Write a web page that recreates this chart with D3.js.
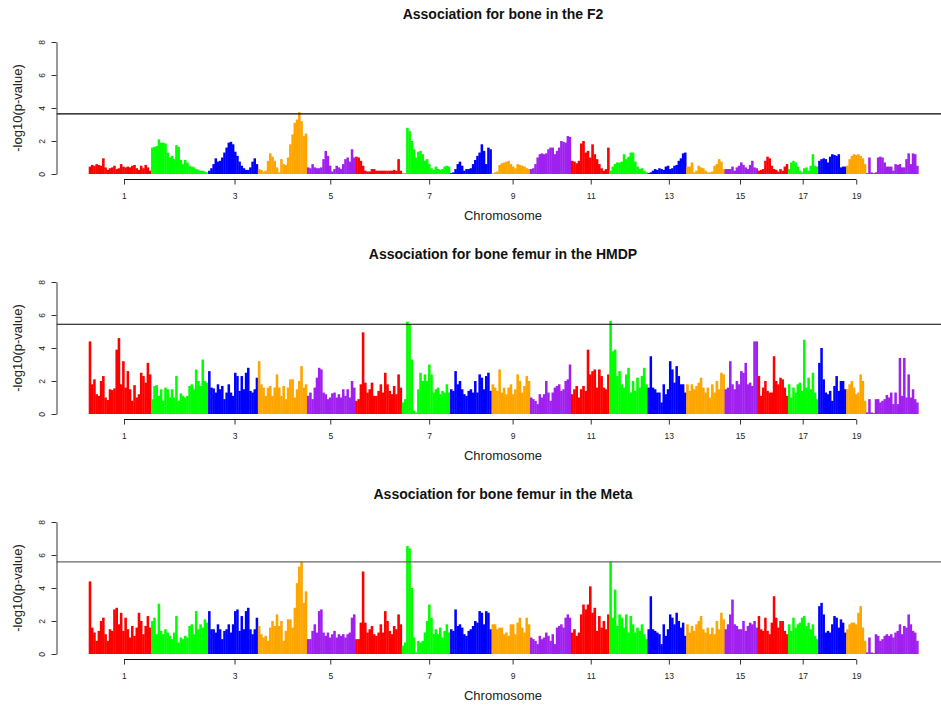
<!DOCTYPE html>
<html>
<head>
<meta charset="utf-8">
<script src="https://cdnjs.cloudflare.com/ajax/libs/d3/7.8.5/d3.min.js"></script>
<style>
  body { margin: 0; background: #fff; }
  text { font-family: "Liberation Sans", Arial, Helvetica, sans-serif; }
</style>
</head>
<body>
<script>
// chromosomes and their lengths (Mb, approx from the picture)
var chromosomes = ["1","2","3","4","5","6","7","8","9","10","11","12","13","14","15","16","17","18","19","X"];
var chrLengths = [198,181,158,156,153,148,153,132,122,130,122,121,123,122,105,96,96,89,63,166];
var chrColors = ["#FF0000", "#00FF00", "#0000FF", "#FFA500", "#A020F0"];

var panelTitles = ["Association for bone in the F2",
                   "Association for bone femur in the HMDP",
                   "Association for bone femur in the Meta"];
var thresholds = [3.64, 5.44, 5.58];
var thresholdColors = ["#000", "#000", "#666"];
var yTicks = [0, 2, 4, 6, 8];
var xTickLabels = ["1","3","5","7","9","11","13","15","17","19"];
var xTickPos = [112, 463, 767, 1081, 1346, 1594, 1842, 2068, 2267, 2437]; // cumulative Mb

// -log10(p) along each chromosome
var f2Logp = [
  [0.45,0.55,0.5,0.6,0.55,0.5,0.95,0.4,0.25,0.35,0.4,0.5,0.3,0.35,0.6,0.45,0.4,0.45,0.4,0.5,0.55,0.35,0.25,0.5,0.35,0.55,0.4,0.2],
  [1.6,1.65,1.7,2.1,1.9,1.9,1.85,1.3,1.0,1.1,0.9,1.75,1.65,0.85,0.6,0.85,0.7,0.5,0.45,0.4,0.3,0.25,0.2,0.2,0.15,0.1],
  [0.2,0.35,0.6,0.95,0.75,0.8,1.0,1.3,1.6,1.9,1.95,1.8,1.35,1.1,0.75,0.5,0.35,0.25,0.25,0.4,0.75,0.95,0.6],
  [0.3,0.25,0.15,0.2,0.8,1.25,1.05,0.8,0.4,0.1,0.9,0.6,0.55,1.0,1.8,2.4,3.1,3.3,3.75,3.2,2.3,2.45],
  [0.4,0.35,0.6,0.4,0.35,0.35,0.4,0.9,1.4,1.1,0.5,0.15,0.3,0.5,0.4,0.3,0.6,0.9,1.0,0.75,1.5,1.0],
  [1.05,1.0,0.8,0.5,0.2,0.15,0.15,0.3,0.3,0.2,0.2,0.2,0.2,0.2,0.2,0.2,0.2,0.25,0.2,0.9,0.2],
  [0.05,0.05,2.8,2.6,2.0,1.5,1.0,1.35,1.4,1.2,0.8,0.9,0.6,0.35,0.25,0.45,0.3,0.25,0.3,0.45,0.5,0.45],
  [0.05,0.1,0.3,0.6,0.75,0.5,0.2,0.3,0.3,0.35,0.6,0.85,1.1,1.3,1.8,1.4,0.6,1.6,1.5],
  [0.05,0.1,0.15,0.55,0.65,0.7,0.75,0.8,0.6,0.45,0.35,0.6,0.55,0.5,0.45,0.35,0.3],
  [0.3,0.35,0.6,1.0,1.2,1.25,1.2,1.25,1.5,1.6,1.6,1.2,1.4,1.6,2.0,1.95,1.9,2.3,2.25],
  [0.8,0.75,0.65,0.8,1.85,2.0,1.3,1.4,1.0,1.8,1.2,0.9,0.6,0.35,0.2,0.3,1.6],
  [0.2,0.45,0.6,0.7,0.7,0.75,1.2,0.9,1.05,1.3,1.3,0.75,0.45,0.3,0.35,0.2,0.1],
  [0.05,0.1,0.2,0.3,0.25,0.35,0.3,0.25,0.45,0.5,0.3,0.35,0.5,0.55,0.8,0.95,1.25,1.3],
  [0.45,0.45,0.7,0.1,0.2,0.5,0.4,0.35,0.2,0.1,0.1,0.15,0.5,0.6,0.9,0.75,0.3],
  [0.3,0.3,0.3,0.45,0.2,0.4,0.5,0.7,0.55,0.4,0.3,0.55,0.8,0.4,0.35],
  [0.2,0.25,0.3,0.8,1.05,0.95,0.5,0.3,0.25,0.15,0.3,0.2,0.45,0.6],
  [0.3,0.7,0.8,0.7,0.45,0.2,0.1,0.35,0.4,0.2,0.5,1.2,0.5,0.45],
  [0.8,0.9,0.95,0.9,0.7,1.05,1.2,1.15,1.1,1.2,0.4,0.45,0.45],
  [0.5,0.9,1.1,1.2,1.15,1.2,1.1,0.95,0.6],
  [0.05,1.0,0.1,0.05,0.1,1.0,1.05,1.0,0.7,0.45,0.45,0.45,0.2,0.6,0.55,0.6,0.4,0.4,0.9,1.25,0.6,1.25,1.2,0.5]
];

var hmdpLogp = [
  [4.4,1.8,2.1,1.2,1.1,2.0,2.3,1.0,0.85,1.5,1.45,1.55,3.9,4.6,1.8,3.2,1.6,2.6,1.5,0.8,1.75,1.0,1.2,2.5,2.3,1.9,3.1,2.4],
  [0.9,1.7,1.75,1.1,1.5,0.8,1.6,1.5,1.0,1.5,1.0,2.3,0.8,1.25,1.1,1.0,1.1,1.7,1.8,1.5,2.7,2.0,1.7,3.3,2.0,1.9],
  [2.6,1.6,1.55,1.3,1.8,1.5,1.7,0.9,1.3,1.8,1.3,1.1,2.5,2.3,1.4,2.3,1.5,2.5,2.8,1.4,1.3,1.5,2.2],
  [3.2,1.8,1.6,1.1,1.6,1.7,1.1,1.6,2.4,1.6,1.1,1.7,0.9,1.6,2.1,2.1,1.0,1.5,2.0,2.9,1.6,1.8],
  [1.1,1.3,0.9,1.6,2.2,2.8,2.7,1.3,1.2,0.9,1.0,1.25,1.3,1.0,1.2,1.0,1.5,1.1,1.5,1.0,2.0,1.6],
  [0.8,0.9,1.8,4.95,1.9,1.3,1.5,1.9,1.1,1.1,1.4,1.8,1.3,2.5,1.8,1.4,1.2,1.7,1.2,2.4,1.6],
  [0.7,0.9,5.6,5.45,3.3,0.2,0.1,1.5,2.5,2.0,2.4,2.0,3.0,2.4,1.3,1.5,1.6,1.2,1.4,1.3,1.8,1.3],
  [1.5,1.4,2.6,1.8,2.0,1.5,1.2,1.1,1.4,1.5,1.3,2.0,1.3,2.4,2.2,1.5,2.3,2.5,1.4],
  [1.8,1.6,1.4,2.7,1.3,1.6,1.2,1.6,1.8,1.2,1.5,2.4,2.0,1.3,1.7,2.3,2.0],
  [1.0,0.9,0.8,0.6,1.2,1.0,1.2,2.0,1.3,0.8,1.3,1.6,1.7,1.8,1.4,1.5,2.0,2.1,3.0],
  [1.2,1.5,1.7,1.0,1.5,1.7,1.4,3.9,2.4,2.6,2.7,1.6,2.7,2.3,1.6,1.5,2.4],
  [5.65,3.8,3.9,2.3,2.6,1.8,1.6,2.4,2.8,1.3,2.0,1.4,2.2,1.6,2.3,2.8,1.8],
  [1.6,3.5,1.6,1.5,1.3,1.3,0.7,1.8,1.2,1.5,3.2,2.7,1.9,2.9,2.3,1.8,1.8,1.3],
  [1.8,1.4,1.8,1.5,1.7,1.9,2.2,1.6,1.3,1.6,1.0,1.8,1.3,2.0,1.5,2.5,2.4],
  [1.5,1.6,3.2,1.8,1.5,2.0,1.8,2.6,2.5,3.1,1.8,1.9,1.7,4.4,4.4],
  [2.3,1.1,1.6,2.0,1.4,1.3,1.3,3.5,2.0,1.8,2.2,2.1,1.6,1.1],
  [1.8,1.0,1.6,1.3,1.8,1.9,1.4,4.5,1.6,2.2,1.5,2.5,1.3,0.9],
  [3.1,4.0,2.1,1.3,1.2,1.4,0.8,1.7,2.3,1.4,2.0,2.0,1.5],
  [1.5,1.8,2.0,1.6,1.2,1.3,2.4,2.0,0.8],
  [0.1,0.9,0.1,0.05,0.9,0.9,0.7,0.8,0.9,1.15,1.0,1.3,0.6,1.3,0.6,3.4,1.1,3.4,1.0,2.4,1.0,1.5,0.9,0.7]
];

var metaLogp = [
  [4.4,1.6,1.3,0.8,1.4,2.0,2.2,1.2,0.8,1.5,1.4,2.7,2.8,1.8,2.5,1.4,2.2,1.5,1.0,1.7,1.1,1.6,2.5,2.0,1.2,1.7,2.3,1.6],
  [2.0,2.2,1.2,3.05,1.4,1.2,1.5,1.3,1.1,0.9,1.3,2.3,0.7,1.0,0.9,1.1,1.0,1.7,1.8,1.2,2.6,1.5,1.8,1.6,2.1,1.9],
  [2.6,1.5,1.5,1.3,1.8,1.5,0.9,1.4,1.5,1.8,1.3,1.8,2.6,2.7,1.4,2.3,1.5,2.6,2.8,1.5,1.2,1.5,2.2],
  [1.7,1.2,1.0,1.1,0.8,1.6,2.0,1.7,2.4,1.7,2.0,0.8,1.4,2.1,2.1,1.6,2.8,4.3,5.3,5.6,3.1,3.8],
  [0.9,0.9,1.4,1.8,1.3,2.6,2.7,1.3,1.1,1.3,1.0,1.2,1.4,1.0,1.2,1.1,1.2,1.0,1.2,1.3,2.2,2.4],
  [0.9,0.9,1.9,5.0,1.9,1.3,1.5,1.7,1.2,1.1,1.3,1.8,1.3,2.6,2.0,1.4,1.2,1.7,1.5,2.4,1.8],
  [0.5,0.7,6.55,6.4,4.0,1.0,0.1,0.8,0.7,0.8,1.3,2.0,3.0,2.2,1.2,1.5,1.2,1.6,1.0,1.4,1.8,1.3],
  [1.5,1.4,2.7,1.7,1.8,1.6,1.2,1.1,1.4,1.5,1.7,2.0,1.9,2.6,2.5,1.8,2.6,2.5,1.5],
  [1.8,1.8,1.5,1.6,1.6,1.2,1.3,1.1,1.8,1.8,1.2,1.9,2.2,1.6,1.3,2.2,1.8],
  [1.0,0.9,0.8,0.6,1.1,0.9,1.0,1.3,1.1,0.8,1.2,0.6,1.6,1.7,1.8,1.6,2.2,2.4,2.2],
  [1.3,1.5,1.1,1.3,2.4,3.0,2.7,3.0,4.1,2.5,2.8,1.4,2.3,1.6,2.0,1.5,2.4],
  [5.6,2.2,3.9,1.7,2.4,2.2,1.6,2.4,1.3,2.3,1.8,1.3,1.6,1.4,1.8,1.2,0.9],
  [1.5,3.5,1.5,1.4,1.3,1.2,0.6,1.8,1.1,1.5,2.4,2.2,1.8,2.5,2.0,1.6,1.9,1.1],
  [1.8,1.3,1.7,1.4,1.8,2.0,2.3,1.5,1.3,1.6,1.2,1.6,1.2,2.0,1.5,2.5,2.1],
  [1.5,1.8,2.4,3.3,1.8,1.7,1.5,1.5,2.0,1.4,1.7,1.9,1.8,2.0,1.6],
  [2.3,1.5,1.4,2.2,1.4,1.2,1.9,3.5,2.2,1.6,2.0,2.0,1.4,1.2],
  [1.8,1.4,2.2,1.6,1.8,1.9,2.2,2.3,1.7,1.9,1.5,1.8,1.1,0.9],
  [2.9,3.1,2.4,1.3,1.4,1.3,1.8,2.3,2.2,1.6,2.1,1.9,1.3],
  [1.5,1.8,1.9,1.9,1.8,2.5,2.9,1.6,0.8],
  [0.1,1.0,0.1,0.05,1.2,1.1,0.8,0.9,1.1,1.2,1.1,1.2,1.0,1.3,1.4,1.8,1.2,1.7,1.6,2.4,1.8,1.4,1.3,0.8]
];

var panels = [f2Logp, hmdpLogp, metaLogp];

var w = 941, h = 705;
var panelStep = 240;
var axisX = 56.5;

var svg = d3.select("body").append("svg")
    .attr("width", w)
    .attr("height", h);

var chrEnds = Array.from(d3.cumsum(chrLengths));
var chrStarts = chrEnds.map((e, i) => e - chrLengths[i]);
var total = chrEnds[chrEnds.length - 1];

var xScale = d3.scaleLinear().domain([0, total]).range([88.7, 918.3]);
var yScale = d3.scaleLinear().domain([0, 8]).range([174, 42]);

svg.append("defs").append("clipPath").attr("id", "plotclip")
  .append("rect").attr("x", axisX).attr("y", 30).attr("width", w - axisX).attr("height", 150);

panels.forEach(function(panel, p) {
  var g = svg.append("g").attr("transform", "translate(0," + (p * panelStep) + ")");

  // flatten into bars
  var bars = [];
  panel.forEach(function(vals, c) {
    var step = chrLengths[c] / vals.length;
    vals.forEach(function(v, i) {
      bars.push({c: c, a: chrStarts[c] + i * step, b: chrStarts[c] + (i + 1) * step, v: v});
    });
  });

  var plot = g.append("g").attr("clip-path", "url(#plotclip)");

  plot.selectAll("rect.bar")
    .data(bars)
    .enter().append("rect")
    .attr("class", "bar")
    .attr("x", d => xScale(d.a))
    .attr("width", d => xScale(d.b) - xScale(d.a) + 0.35)
    .attr("y", d => yScale(d.v))
    .attr("height", d => yScale(0) - yScale(d.v))
    .attr("fill", d => chrColors[d.c % 5]);

  // significance line
  plot.append("line")
    .attr("x1", axisX).attr("x2", w)
    .attr("y1", yScale(thresholds[p])).attr("y2", yScale(thresholds[p]))
    .attr("stroke", thresholdColors[p])
    .attr("stroke-width", 1.2);

  // y axis
  var yAxis = d3.axisLeft(yScale).tickValues(yTicks).tickSize(5).tickSizeOuter(0);
  var ya = g.append("g").attr("transform", "translate(" + axisX + ",0)").call(yAxis);
  ya.selectAll("path, line").attr("stroke", "#333").attr("stroke-width", 1);
  ya.selectAll("text")
    .attr("x", 0).attr("dy", 0)
    .attr("transform", "translate(-12,0) rotate(-90)")
    .attr("text-anchor", "middle")
    .attr("font-size", 8.5)
    .attr("fill", "#222");

  // x axis, ticks at odd chromosomes, line from first to last tick
  var xAxis = d3.axisBottom(xScale)
    .tickValues(xTickPos)
    .tickFormat((d, k) => xTickLabels[k])
    .tickSize(5).tickSizeOuter(0);
  var xa = g.append("g").attr("transform", "translate(0,179.5)").call(xAxis);
  xa.select(".domain").remove();
  xa.append("line")
    .attr("x1", xScale(xTickPos[0])).attr("x2", xScale(xTickPos[xTickPos.length - 1]))
    .attr("stroke", "#111").attr("stroke-width", 1.2);
  xa.selectAll(".tick line").attr("stroke", "#333");
  xa.selectAll("text").attr("y", 13).attr("font-size", 8.5).attr("fill", "#222");

  // labels
  g.append("text")
    .attr("x", 503).attr("y", 19)
    .attr("text-anchor", "middle")
    .attr("font-size", 14).attr("font-weight", "bold")
    .attr("fill", "#111")
    .text(panelTitles[p]);

  g.append("text")
    .attr("x", 503).attr("y", 220)
    .attr("text-anchor", "middle")
    .attr("font-size", 13)
    .attr("fill", "#222")
    .text("Chromosome");

  g.append("text")
    .attr("transform", "translate(22," + yScale(4) + ") rotate(-90)")
    .attr("text-anchor", "middle")
    .attr("font-size", 13)
    .attr("fill", "#222")
    .text("-log10(p-value)");
});
</script>
</body>
</html>
